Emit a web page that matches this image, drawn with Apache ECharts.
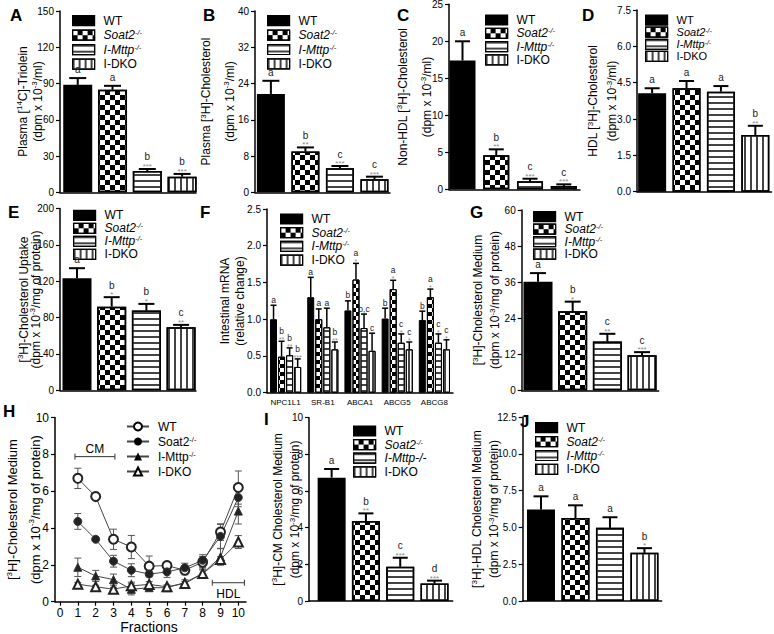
<!DOCTYPE html>
<html><head><meta charset="utf-8">
<script src="https://cdn.jsdelivr.net/npm/echarts@6/dist/echarts.min.js"></script>
<style>html,body{margin:0;padding:0;background:#fff}#c{width:774px;height:634px}</style>
</head><body><div id="c"></div>
<script>
// ================= DATA =================
const genotypes = ['WT', 'Soat2', 'I-Mttp', 'I-DKO'];

// A: Plasma [14C]-Triolein
const aTicks = ['0', '30', '60', '90', '120', '150'];
const aMean = [88.9, 84.8, 17.6, 12.9];
const aErr = [5.6, 3.3, 1.7, 2.3];
const aLetter = ['a', 'a', 'b', 'b'];
const aStars = ['', '', '***', '***'];

// B: Plasma [3H]-Cholesterol
const bTicks = ['0', '8', '16', '24', '32', '40'];
const bMean = [21.7, 9.0, 5.3, 2.9];
const bErr = [2.9, 0.9, 0.5, 0.55];
const bLetter = ['a', 'b', 'c', 'c'];
const bStars = ['', '**', '***', '***'];

// C: Non-HDL [3H]-Cholesterol
const cTicks = ['0', '5', '10', '15', '20', '25'];
const cMean = [17.4, 4.6, 1.1, 0.45];
const cErr = [2.6, 0.8, 0.33, 0.22];
const cLetter = ['a', 'b', 'c', 'c'];
const cStars = ['', '**', '***', '***'];

// D: HDL [3H]-Cholesterol
const dTicks = ['0.0', '1.5', '3.0', '4.5', '6.0', '7.5'];
const dMean = [4.06, 4.27, 4.13, 2.34];
const dErr = [0.21, 0.30, 0.23, 0.38];
const dLetter = ['a', 'a', 'a', 'b'];
const dStars = ['', '', '', '**'];

// E: [3H]-Cholesterol Uptake
const eTicks = ['0', '40', '80', '120', '160', '200'];
const eMean = [123.4, 92.1, 87.7, 69.4];
const eErr = [11.0, 10.4, 7.4, 2.6];
const eLetter = ['a', 'b', 'b', 'c'];
const eStars = ['', '*', '*', '**'];

// F: Intestinal mRNA
const fTicks = ['0.0', '0.5', '1.0', '1.5', '2.0', '2.5'];
const fGenes = ['NPC1L1', 'SR-B1', 'ABCA1', 'ABCG5', 'ABCG8'];
const fWT = [1.00, 1.30, 1.12, 1.01, 0.99];
const fWTErr = [0.19, 0.27, 0.13, 0.14, 0.12];
const fWTLetter = ['a', 'a', 'b', 'b', 'b'];
const fWTStars = ['', '', '', '', ''];
const fSoat2 = [0.49, 1.00, 1.54, 1.41, 1.30];
const fSoat2Err = [0.21, 0.14, 0.22, 0.12, 0.11];
const fSoat2Letter = ['b', 'a', 'a', 'a', 'a'];
const fSoat2Stars = ['**', '', '*', '*', '*'];
const fMttp = [0.51, 0.89, 0.88, 0.68, 0.68];
const fMttpErr = [0.10, 0.26, 0.19, 0.12, 0.12];
const fMttpLetter = ['b', 'a', 'b,c', 'c', 'c'];
const fMttpStars = ['**', '', '', '*', '*'];
const fDKO = [0.35, 0.59, 0.57, 0.59, 0.59];
const fDKOErr = [0.11, 0.10, 0.24, 0.10, 0.13];
const fDKOLetter = ['b', 'b', 'c', 'c', 'c'];
const fDKOStars = ['***', '**', '', '*', '*'];

// G: [3H]-Cholesterol Medium
const gTicks = ['0', '12', '24', '36', '48', '60'];
const gMean = [36.1, 26.3, 16.2, 11.7];
const gErr = [2.9, 3.2, 2.6, 1.0];
const gLetter = ['a', 'b', 'c', 'c'];
const gStars = ['', '*', '**', '***'];

// H: fractions profile
const hYTicks = ['0', '2', '4', '6', '8', '10'];
const hXTicks = [0, 1, 2, 3, 4, 5, 6, 7, 8, 9, 10];
const hFractions = [1, 2, 3, 4, 5, 6, 7, 8, 9, 10];
const hWT = [6.70, 5.71, 3.39, 2.97, 1.93, 1.96, 1.71, 2.15, 3.78, 6.20];
const hWTErr = [0.55, 0.10, 0.55, 0.63, 0.55, 0.12, 0.25, 0.30, 0.45, 0.90];
const hSoat2 = [4.36, 3.39, 2.20, 1.71, 1.50, 1.62, 1.84, 2.25, 3.55, 5.66];
const hSoat2Err = [0.43, 0.08, 0.32, 0.35, 0.15, 0.30, 0.25, 0.30, 0.65, 0.50];
const hMttp = [1.87, 1.40, 1.20, 0.67, 0.76, 0.76, 1.04, 1.53, 2.43, 4.92];
const hMttpErr = [0.50, 0.30, 0.30, 0.30, 0.15, 0.10, 0.15, 0.25, 0.45, 0.70];
const hDKO = [0.95, 0.81, 0.68, 0.86, 0.94, 0.81, 0.99, 1.53, 2.29, 3.24];
const hDKOErr = [0.10, 0.08, 0.10, 0.20, 0.15, 0.10, 0.10, 0.20, 0.15, 0.35];
const hBracketLabels = ['CM', 'HDL'];
const hBracketFrom = [0.84, 8.54];
const hBracketTo = [3.08, 10.34];
const hBracketLevel = [7.88, 1.03];

// I: [3H]-CM Cholesterol Medium
const iTicks = ['0', '2', '4', '6', '8', '10'];
const iMean = [6.73, 4.36, 1.87, 0.96];
const iErr = [0.47, 0.42, 0.49, 0.15];
const iLetter = ['a', 'b', 'c', 'd'];
const iStars = ['', '**', '***', '***'];

// J: [3H]-HDL Cholesterol Medium
const jTicks = ['0.0', '2.5', '5.0', '7.5', '10.0', '12.5'];
const jMean = [6.21, 5.64, 4.97, 3.27];
const jErr = [0.90, 0.86, 0.72, 0.32];
const jLetter = ['a', 'a', 'a', 'b'];
const jStars = ['', '', '', '*'];

// ================= LAYOUT & STYLE =================
const FONT = 'Arial, "Liberation Sans", Helvetica, sans-serif';
const layout = {
  A: {left: 60, top: 11, width: 136, height: 181.3, xmin: -0.51, xmax: 3.4, bw: 29, cap: 17},
  B: {left: 255, top: 11, width: 135, height: 181.3, xmin: -0.46, xmax: 3.45, bw: 28, cap: 17},
  C: {left: 449, top: 4.3, width: 131, height: 185, xmin: -0.4, xmax: 3.48, bw: 26, cap: 15},
  D: {left: 637, top: 10, width: 134.5, height: 181.7, xmin: -0.44, xmax: 3.47, bw: 28, cap: 15},
  E: {left: 60, top: 208.6, width: 136, height: 181.7, xmin: -0.49, xmax: 3.43, bw: 29, cap: 16},
  F: {left: 267, top: 209, width: 186, height: 183.7},
  G: {left: 521.7, top: 210, width: 137, height: 180.3, xmin: -0.47, xmax: 3.48, bw: 29, cap: 16},
  H: {left: 55, top: 417.6, width: 191, height: 184.1, xmin: -0.28, xmax: 10.43},
  I: {left: 309, top: 417.7, width: 143.7, height: 183.3, xmin: -0.66, xmax: 3.53, bw: 28, cap: 15},
  J: {left: 522.7, top: 417, width: 139, height: 184, xmin: -0.53, xmax: 3.5, bw: 28, cap: 15}
};
const legendPos = {
  A: {left: 67, top: 9.7, gap: 14.5, fs: 12}, B: {left: 262, top: 9.7, gap: 14.4, fs: 12},
  C: {left: 480, top: 9, gap: 13.3, fs: 12}, D: {left: 640, top: 9.5, gap: 11.9, fs: 11},
  E: {left: 68, top: 204.3, gap: 13, fs: 12}, F: {left: 275, top: 208, gap: 13.7, fs: 12},
  G: {left: 528, top: 205.7, gap: 12.5, fs: 12}, H: {left: 121, top: 415.5, gap: 15, fs: 12},
  I: {left: 348, top: 420, gap: 13.6, fs: 12}, J: {left: 530, top: 416.7, gap: 13.9, fs: 12}
};

function checker(s) {
  return {symbol: 'rect', symbolSize: 1, symbolKeepAspect: false,
    dashArrayX: [[s, s], [0, s, s, 0]], dashArrayY: [s, 0],
    color: '#000', backgroundColor: '#fff', rotation: 0};
}
const hStripe = {symbol: 'rect', symbolSize: 1, symbolKeepAspect: false,
  dashArrayX: [10, 0], dashArrayY: [1.1, 3.3], color: '#444', backgroundColor: '#fff', rotation: 0};
const vStripe = {symbol: 'rect', symbolSize: 1, symbolKeepAspect: false,
  dashArrayX: [1.1, 3.3], dashArrayY: [10, 0], color: '#444', backgroundColor: '#fff', rotation: 0};

function barStyle(g, bwidth, chk) {
  const base = {borderColor: '#000', borderWidth: bwidth};
  if (g === 'WT') return Object.assign({color: '#000'}, base);
  if (g === 'Soat2') return Object.assign({color: '#fff', decal: checker(chk)}, base);
  if (g === 'I-Mttp') return Object.assign({color: '#fff', decal: hStripe}, base);
  return Object.assign({color: '#fff', decal: vStripe}, base);
}

const grids = [], xAxes = [], yAxes = [], series = [], legends = [], graphics = [];

function txt(x, y, text, size, color, va) {
  return {type: 'text', x: x, y: y, silent: true,
    style: {text: text, fontSize: size, fontFamily: FONT, fill: color,
      align: 'center', verticalAlign: va || 'bottom', textAlign: 'center', textVerticalAlign: va || 'bottom'}};
}

function yAxisFor(gi, ticks, fs) {
  const nums = ticks.map(Number);
  return {gridIndex: gi, type: 'value', min: nums[0], max: nums[nums.length - 1], interval: nums[1] - nums[0],
    axisLine: {show: true, onZero: false, lineStyle: {color: '#000', width: 1.5}},
    axisTick: {show: true, inside: false, length: 4, lineStyle: {color: '#000', width: 1.2}},
    axisLabel: {show: true, color: '#000', fontSize: fs || 10, fontFamily: FONT, margin: 6,
      formatter: function (v) { const k = nums.findIndex(n => Math.abs(n - v) < 1e-6); return k >= 0 ? ticks[k] : ''; }},
    splitLine: {show: false}};
}

function barErrSeries(gi, xs, means, errs, letters, stars, o) {
  return {type: 'custom', xAxisIndex: gi, yAxisIndex: gi, z: 5, silent: true, animation: false, clip: false,
    data: xs.map((x, i) => [x, means[i] + errs[i]]),
    renderItem: function (params, api) {
      const i = params.dataIndex;
      const b = api.coord([xs[i], means[i]]);
      const t = api.coord([xs[i], means[i] + errs[i]]);
      const cx = b[0] + (o.xOff || 0);
      const ch = [
        {type: 'line', shape: {x1: cx, y1: b[1], x2: cx, y2: t[1]}, style: {stroke: '#000', lineWidth: o.lw}},
        {type: 'line', shape: {x1: cx - o.cap / 2, y1: t[1], x2: cx + o.cap / 2, y2: t[1]}, style: {stroke: '#000', lineWidth: o.lw}}
      ];
      const s = stars[i];
      if (s) ch.push(txt(cx, t[1] + o.starDrop, s, o.starSize, '#8a8a8a'));
      ch.push(txt(cx, t[1] - (s ? o.lift2 : o.lift1), letters[i], o.letterSize, '#222'));
      return {type: 'group', children: ch};
    }};
}

function legendRich(fs) {
  return {
    i: {fontStyle: 'italic', fontSize: fs, fontFamily: FONT, lineHeight: fs},
    si: {fontStyle: 'italic', fontSize: fs * 0.62, fontFamily: FONT, verticalAlign: 'top', lineHeight: 7},
    s: {fontSize: fs * 0.62, fontFamily: FONT, verticalAlign: 'top', lineHeight: 7}
  };
}
function addLegend(key, names, fmtMap) {
  const p = legendPos[key];
  legends.push({orient: 'vertical', left: p.left, top: p.top, itemWidth: 22, itemHeight: 10,
    itemGap: Math.max(0, p.gap - p.fs), selectedMode: false, data: names, icon: key === 'H' ? undefined : 'rect',
    itemStyle: key === 'H' ? undefined : {borderColor: '#000', borderWidth: 1.2},
    formatter: n => fmtMap[n],
    textStyle: {fontSize: p.fs, fontFamily: FONT, color: '#000', lineHeight: p.fs, padding: [0, 0, 0, 4], rich: legendRich(p.fs)}});
}
const barLegendText = {'WT': 'WT', 'Soat2': '{i|Soat2}{si|-/-}', 'I-Mttp': '{i|I-Mttp}{si|-/-}', 'I-DKO': 'I-DKO'};

function barPanel(key, ticks, mean, err, letters, stars, legendText) {
  const L = layout[key];
  const gi = grids.length;
  grids.push({left: L.left, top: L.top, width: L.width, height: L.height, outerBoundsMode: 'none'});
  xAxes.push({gridIndex: gi, type: 'value', min: L.xmin, max: L.xmax,
    axisLine: {show: true, onZero: false, lineStyle: {color: '#000', width: 1.5}},
    axisTick: {show: false}, axisLabel: {show: false}, splitLine: {show: false}});
  yAxes.push(yAxisFor(gi, ticks, 10));
  genotypes.forEach((g, i) => {
    series.push({type: 'bar', name: g, xAxisIndex: gi, yAxisIndex: gi, data: [[i, mean[i]]],
      barWidth: L.bw, barGap: '-100%', itemStyle: barStyle(g, 1.5, 5), silent: true, animation: false});
  });
  series.push(barErrSeries(gi, [0, 1, 2, 3], mean, err, letters, stars,
    {cap: L.cap, lw: 2, letterSize: 10, starSize: 8, starDrop: 1.5, lift1: 3.5, lift2: 7}));
  addLegend(key, genotypes, legendText || barLegendText);
}

barPanel('A', aTicks, aMean, aErr, aLetter, aStars);
barPanel('B', bTicks, bMean, bErr, bLetter, bStars);
barPanel('C', cTicks, cMean, cErr, cLetter, cStars);
barPanel('D', dTicks, dMean, dErr, dLetter, dStars);
barPanel('E', eTicks, eMean, eErr, eLetter, eStars);
barPanel('G', gTicks, gMean, gErr, gLetter, gStars);
barPanel('I', iTicks, iMean, iErr, iLetter, iStars,
  {'WT': 'WT', 'Soat2': '{i|Soat2}{si|-/-}', 'I-Mttp': '{i|I-Mttp-/-}', 'I-DKO': 'I-DKO'});
barPanel('J', jTicks, jMean, jErr, jLetter, jStars);

// ---- Panel F (grouped) ----
(function () {
  const L = layout.F;
  const gi = grids.length;
  grids.push({left: L.left, top: L.top, width: L.width, height: L.height, outerBoundsMode: 'none'});
  xAxes.push({gridIndex: gi, type: 'category', data: fGenes,
    axisLine: {show: true, onZero: false, lineStyle: {color: '#000', width: 1.5}},
    axisTick: {show: false},
    axisLabel: {show: true, fontSize: 8, fontFamily: FONT, color: '#000', margin: 6, interval: 0}});
  yAxes.push(yAxisFor(gi, fTicks, 10));
  const sets = [
    [fWT, fWTErr, fWTLetter, fWTStars], [fSoat2, fSoat2Err, fSoat2Letter, fSoat2Stars],
    [fMttp, fMttpErr, fMttpLetter, fMttpStars], [fDKO, fDKOErr, fDKOLetter, fDKOStars]];
  const bw = 7, gapPx = 1.05, total = 4 * bw + 3 * gapPx;
  sets.forEach((s, k) => {
    series.push({type: 'bar', name: genotypes[k], xAxisIndex: gi, yAxisIndex: gi, data: s[0],
      barWidth: bw, barGap: '15%', itemStyle: barStyle(genotypes[k], 1, 3.5), silent: true, animation: false});
  });
  sets.forEach((s, k) => {
    const off = -total / 2 + bw / 2 + k * (bw + gapPx);
    series.push(barErrSeries(gi, [0, 1, 2, 3, 4], s[0], s[1], s[2], s[3],
      {cap: 6, lw: 1.5, letterSize: 8.5, starSize: 7, starDrop: 2, lift1: 1, lift2: 5.5, xOff: off}));
  });
  addLegend('F', genotypes, barLegendText);
})();

// ---- Panel H (line profile) ----
(function () {
  const L = layout.H;
  const gi = grids.length;
  grids.push({left: L.left, top: L.top, width: L.width, height: L.height, outerBoundsMode: 'none'});
  xAxes.push({gridIndex: gi, type: 'value', min: L.xmin, max: L.xmax,
    axisLine: {show: true, onZero: false, lineStyle: {color: '#000', width: 1.5}},
    axisTick: {show: true, length: 4, customValues: hXTicks, lineStyle: {color: '#000', width: 1.2}},
    axisLabel: {show: true, customValues: hXTicks, fontSize: 12, fontFamily: FONT, color: '#000', margin: 5},
    splitLine: {show: false}});
  yAxes.push(yAxisFor(gi, hYTicks, 12));
  const defs = [
    {name: 'H-WT', v: hWT, e: hWTErr, symbol: 'emptyCircle', size: 9},
    {name: 'H-Soat2', v: hSoat2, e: hSoat2Err, symbol: 'circle', size: 8},
    {name: 'H-Mttp', v: hMttp, e: hMttpErr, symbol: 'triangle', size: 8},
    {name: 'H-DKO', v: hDKO, e: hDKOErr, symbol: 'emptyTriangle', size: 9}];
  defs.forEach(d => {
    series.push({type: 'custom', xAxisIndex: gi, yAxisIndex: gi, z: 1, silent: true, animation: false,
      data: hFractions.map((x, i) => [x, d.v[i]]),
      renderItem: function (params, api) {
        const i = params.dataIndex;
        const lo = api.coord([hFractions[i], d.v[i] - d.e[i]]);
        const hi = api.coord([hFractions[i], d.v[i] + d.e[i]]);
        const st = {stroke: '#555', lineWidth: 1};
        return {type: 'group', children: [
          {type: 'line', shape: {x1: lo[0], y1: lo[1], x2: hi[0], y2: hi[1]}, style: st},
          {type: 'line', shape: {x1: hi[0] - 3.5, y1: hi[1], x2: hi[0] + 3.5, y2: hi[1]}, style: st},
          {type: 'line', shape: {x1: lo[0] - 3.5, y1: lo[1], x2: lo[0] + 3.5, y2: lo[1]}, style: st}]};
      }});
  });
  defs.forEach(d => {
    series.push({type: 'line', name: d.name, xAxisIndex: gi, yAxisIndex: gi, z: 3, animation: false, silent: true,
      data: hFractions.map((x, i) => [x, d.v[i]]), symbol: d.symbol, symbolSize: d.size, showAllSymbol: true,
      lineStyle: {color: '#444', width: 1}, itemStyle: {color: '#222', borderColor: '#333', borderWidth: 1}});
  });
  series.push({type: 'custom', xAxisIndex: gi, yAxisIndex: gi, z: 4, silent: true, animation: false,
    data: hBracketLabels.map((t, i) => [hBracketFrom[i], hBracketLevel[i]]),
    renderItem: function (params, api) {
      const i = params.dataIndex;
      const a = api.coord([hBracketFrom[i], hBracketLevel[i]]);
      const b = api.coord([hBracketTo[i], hBracketLevel[i]]);
      const st = {stroke: '#333', lineWidth: 1};
      const above = i === 0;
      return {type: 'group', children: [
        {type: 'line', shape: {x1: a[0], y1: a[1], x2: b[0], y2: b[1]}, style: st},
        {type: 'line', shape: {x1: a[0], y1: a[1] - 3, x2: a[0], y2: a[1] + 3}, style: st},
        {type: 'line', shape: {x1: b[0], y1: b[1] - 3, x2: b[0], y2: b[1] + 3}, style: st},
        txt((a[0] + b[0]) / 2, above ? a[1] - 7.5 : a[1] + 11.5, hBracketLabels[i], 12, '#000', 'middle')]};
    }});
  addLegend('H', ['H-WT', 'H-Soat2', 'H-Mttp', 'H-DKO'],
    {'H-WT': 'WT', 'H-Soat2': 'Soat2{s|-/-}', 'H-Mttp': 'I-Mttp{s|-/-}', 'H-DKO': 'I-DKO'});
})();

// ---- Titles / panel letters ----
const supRich = {s: {fontSize: 8, fontFamily: FONT, verticalAlign: 'top', lineHeight: 8}};
function vtitle(x, y, text, fs) {
  graphics.push({type: 'text', x: x, y: y, rotation: Math.PI / 2, silent: true,
    style: {text: text, rich: supRich, fontSize: fs, fontFamily: FONT, fill: '#000', lineHeight: fs + 2,
      align: 'center', verticalAlign: 'middle', textAlign: 'center', textVerticalAlign: 'middle'}});
}
const protein = '(dpm x 10{s|-3}/mg of protein)';
const perMl = '(dpm x 10{s|-3}/ml)';
vtitle(22.5, 101.5, 'Plasma [{s|14}C]-Triolein', 12); vtitle(37.5, 101.5, perMl, 12);
vtitle(206, 101.5, 'Plasma [{s|3}H]-Cholesterol', 12); vtitle(229.5, 101.5, perMl, 12);
vtitle(402.5, 97, 'Non-HDL [{s|3}H]-Cholesterol', 12); vtitle(426.5, 97, perMl, 12);
vtitle(593, 101, 'HDL [{s|3}H]-Cholesterol', 12); vtitle(612, 101, perMl, 12);
vtitle(23.5, 299.5, '[{s|3}H]-Cholesterol Uptake', 12); vtitle(35.5, 299.5, protein, 12);
vtitle(225, 301, 'Intestinal mRNA', 12); vtitle(240, 301, '(relative change)', 12);
vtitle(478, 300, '[{s|3}H]-Cholesterol Medium', 12); vtitle(495, 300, protein, 12);
vtitle(12.5, 509.6, '[{s|3}H]-Cholesterol Medium', 13); vtitle(35, 509.6, protein, 13);
vtitle(277.5, 509.4, '[{s|3}H]-CM Cholesterol Medium', 12); vtitle(295, 509.4, protein, 12);
vtitle(477, 509, '[{s|3}H]-HDL Cholesterol Medium', 12); vtitle(494, 509, protein, 12);
graphics.push(txt(149, 627, 'Fractions', 14, '#000', 'middle'));

const panelLetters = [['A', 10, 7], ['B', 203, 7], ['C', 397, 7], ['D', 582, 7], ['E', 8, 204],
  ['F', 200, 204], ['G', 470, 204], ['H', 3, 403], ['I', 264, 411], ['J', 520, 413]];
panelLetters.forEach(p => graphics.push({type: 'text', x: p[1], y: p[2], silent: true,
  style: {text: p[0], fontSize: 17, fontWeight: 'bold', fontFamily: FONT, fill: '#000',
    align: 'left', verticalAlign: 'top', textAlign: 'left', textVerticalAlign: 'top'}}));

const chart = echarts.init(document.getElementById('c'), null, {renderer: 'svg', width: 774, height: 634});
chart.setOption({
  animation: false, backgroundColor: '#fff',
  textStyle: {fontFamily: FONT},
  grid: grids, xAxis: xAxes, yAxis: yAxes, series: series, legend: legends, graphic: graphics
});
</script></body></html>
